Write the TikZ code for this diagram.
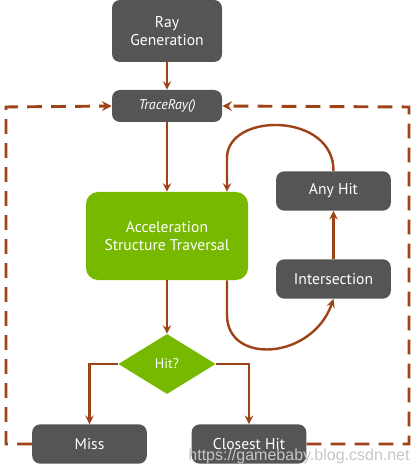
\documentclass[tikz,border=0pt]{standalone}
\usepackage{fontspec}
\setmainfont{PT Sans}
\usetikzlibrary{shapes.geometric,arrows}
\definecolor{boxgray}{HTML}{555555}
\definecolor{nvgreen}{HTML}{76B900}
\definecolor{arcbrown}{HTML}{9E4218}
\begin{document}
\begin{tikzpicture}[x=0.75pt, y=-0.75pt, font=\fontsize{11.7}{13.5}\selectfont]
%% the figure uses pixel units of the original drawing (y grows downwards)
\tikzstyle{arc}=[->,>=stealth,line width=1.8pt,draw=arcbrown]
\tikzstyle{loopArc}=[->,>=stealth,line width=2.2pt,draw=arcbrown,dash pattern=on 11pt off 7pt]
\tikzstyle{every block}=[rounded corners=6pt,fill=boxgray,text=white,align=center,inner sep=0pt]
\tikzstyle{block}=[every block,minimum width=86pt,minimum height=29.5pt]
\tikzstyle{greenblock}=[every block,fill=nvgreen,rounded corners=9pt,minimum width=121.5pt,minimum height=66pt]
\tikzstyle{decision}=[diamond,fill=nvgreen,text=white,inner sep=0pt,minimum width=73pt,minimum height=45pt]
\useasboundingbox (0,0) rectangle (417,473);
%% TikZ-figure elements %%
\node[every block,minimum width=82.5pt,minimum height=46.5pt] at (167,31) (RayGen) {Ray\\Generation};
\node[every block,minimum width=82.5pt,minimum height=24pt] at (167,106) (TraceRay) {\itshape\fontsize{10.5}{12}\selectfont TraceRay()};
\node[greenblock] at (167,236) (Accel) {Acceleration\\Structure Traversal};
\node[block] at (333.5,191) (AnyHit) {Any Hit};
\node[block] at (333.5,279) (Isect) {Intersection};
\node[decision] at (167,364) (Hit) {\fontsize{10.5}{12}\selectfont Hit?};
\node[block] at (89.5,444) (Miss) {Miss};
\node[block] at (249,444) (Closest) {Closest Hit};
%% corners of the dashed return loop
\coordinate (LoopTL) at (6,107);
\coordinate (LoopBL) at (6,444);
\coordinate (LoopTR) at (409,107);
\coordinate (LoopBR) at (409,444);
%% side track for the any hit / intersection loop
\coordinate (SideTop) at (227,158);
\coordinate (SideBot) at (227,315);
%% arcs
\draw[arc] (RayGen) -- (TraceRay);
\draw[arc] (TraceRay) -- (Accel);
\draw[arc] (Accel) -- (Hit);
\draw[arc] (Isect) -- (AnyHit);
\draw[arc] (Hit.west) -| (Miss.north);
\draw[arc] (Hit.east) -| (Closest.north);
\draw[arc] (AnyHit.north) .. controls (334,112) and (227,112) .. (SideTop) -- (SideTop |- Accel.north);
\draw[arc] (SideBot |- Accel.south) -- (SideBot) .. controls (227,365) and (312,360) .. (Isect.south);
%% dashed return to TraceRay
\draw[loopArc] (Miss.west) -- (LoopBL) -- (LoopTL) -- (TraceRay.west);
\draw[loopArc] (Closest.east) -- (LoopBR) -- (LoopTR) -- (TraceRay.east);
%% watermark
\node[text=gray!45,font=\fontsize{12}{14}\selectfont\fontspec{Liberation Sans}] at (299,456) (Mark) {https://gamebaby.blog.csdn.net};
\end{tikzpicture}
\end{document}
